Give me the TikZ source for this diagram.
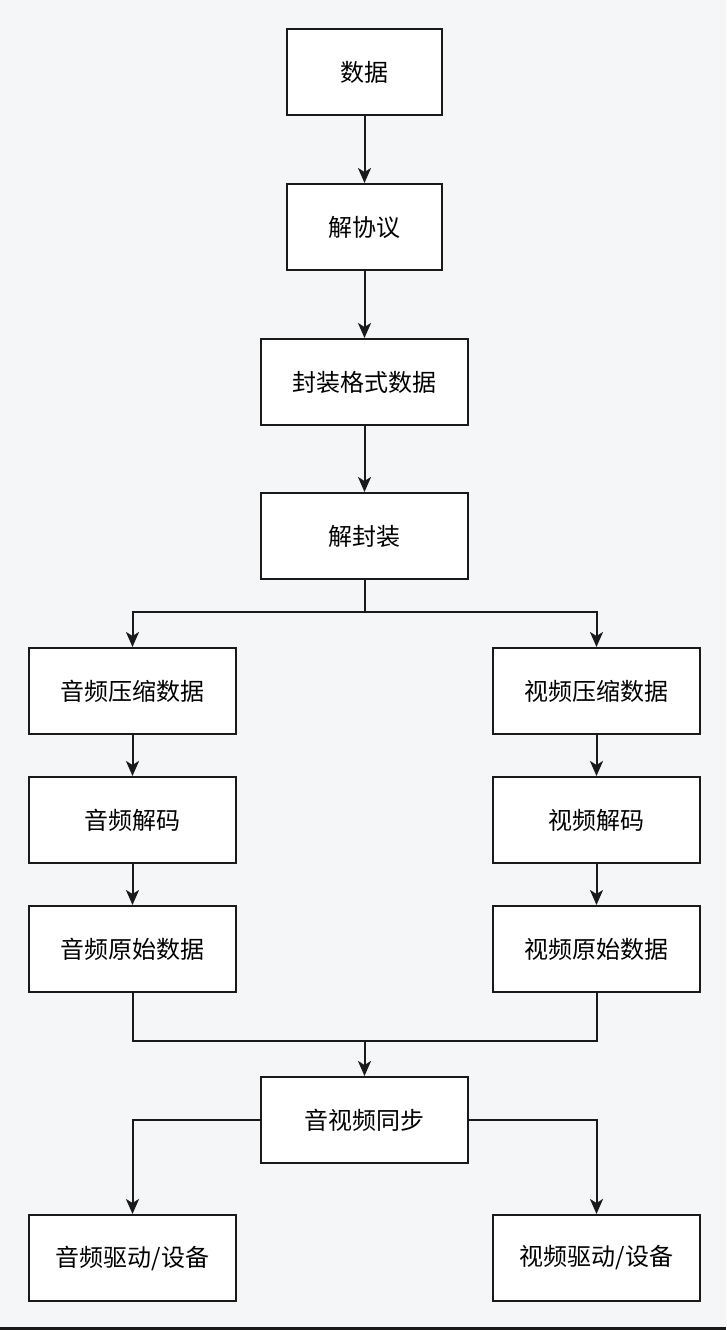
\documentclass[tikz,border=0pt]{standalone}
\usepackage{fontspec}
\setmainfont{Noto Sans CJK SC}
\usetikzlibrary{arrows.meta}
\definecolor{bg}{HTML}{F5F6F8}
\definecolor{ln}{HTML}{1A1A1A}
\begin{document}
\begin{tikzpicture}[x=1pt,y=-1pt,
  box/.style={draw=ln,line width=2pt,fill=white,minimum width=#1,minimum height=86pt,inner sep=0pt,font=\fontsize{24}{28}\selectfont,anchor=north west},
  box/.default=155pt,
  conn/.style={draw=ln,line width=2pt},
  arr/.style={conn,-{Stealth[length=15pt,width=13pt,inset=4pt]}}]
\fill[bg] (0,0) rectangle (726,1330);
\useasboundingbox (0,0) rectangle (726,1330);
\fill[ln] (0,1327) rectangle (726,1330);
\node[box=155pt] (n1) at (286,28) {数据};
\node[box=155pt] (n2) at (286,183) {解协议};
\node[box=207pt] (n3) at (260,338) {封装格式数据};
\node[box=207pt] (n4) at (260,492) {解封装};
\node[box=207pt] (a1) at (28,647) {音频压缩数据};
\node[box=207pt] (v1) at (492,647) {视频压缩数据};
\node[box=207pt] (a2) at (28,776) {音频解码};
\node[box=207pt] (v2) at (492,776) {视频解码};
\node[box=207pt] (a3) at (28,905) {音频原始数据};
\node[box=207pt] (v3) at (492,905) {视频原始数据};
\node[box=207pt] (s) at (260,1076) {音视频同步};
\node[box=207pt] (a4) at (28,1214) {音频驱动/设备};
\node[box=207pt] (v4) at (492,1214) {视频驱动/设备};
\draw[arr] (n1.south) -- (n2.north);
\draw[arr] (n2.south) -- (n3.north);
\draw[arr] (n3.south) -- (n4.north);
\draw[arr] (n4.south) |- (a1.north |- 0,612) -- (a1.north);
\draw[arr] (n4.south) |- (v1.north |- 0,612) -- (v1.north);
\draw[arr] (a1.south) -- (a2.north);
\draw[arr] (v1.south) -- (v2.north);
\draw[arr] (a2.south) -- (a3.north);
\draw[arr] (v2.south) -- (v3.north);
\draw[conn] (a3.south) |- (v3.south |- 0,1041) -- (v3.south);
\coordinate (m) at (s.north |- 0,1041);
\draw[arr] (m) -- (s.north);
\draw[arr] (s.west) -| (a4.north);
\draw[arr] (s.east) -| (v4.north);
\end{tikzpicture}
\end{document}
